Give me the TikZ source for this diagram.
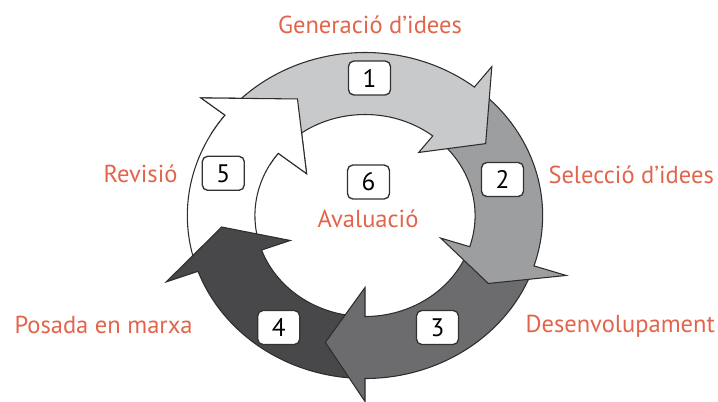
\documentclass[tikz,border=0pt]{standalone}
\usepackage{fontspec}
\setmainfont{PT Sans}

\definecolor{labelred}{RGB}{226,100,75}
\definecolor{stageone}{RGB}{200,201,203}
\definecolor{stagetwo}{RGB}{157,158,160}
\definecolor{stagethree}{RGB}{108,108,110}
\definecolor{stagefour}{RGB}{72,72,74}
\definecolor{stagefive}{RGB}{255,255,255}

\tikzset{every picture/.style={line width=0.75pt}}
\tikzset{
  stage/.style={draw={rgb,255:red,45;green,45;blue,45}, line width=0.8pt, line join=miter},
  numbox/.style={draw={rgb,255:red,50;green,50;blue,50}, fill=white, rounded corners=4pt,
    line width=1pt, minimum width=31.5pt, minimum height=25.5pt, inner sep=0pt,
    font=\fontsize{19}{19}\selectfont},
  steplabel/.style={text=labelred, inner sep=0pt, font=\fontsize{18.4}{18.4}\selectfont}
}

% fill, tail, base, tip, inner barb, outer barb
\newcommand{\stagearrow}[6]{%
  \draw[stage, fill=#1] (#2:163) arc[start angle=#2, end angle=#3, radius=163]
    -- (#3:#6) -- (#4:132) -- (#3:#5) -- (#3:101)
    arc[start angle=#3, end angle=#2, radius=101] -- cycle;}

\begin{document}
\begin{tikzpicture}[x=0.75pt,y=0.75pt,yscale=-1,xscale=1]
\useasboundingbox (0,0) rectangle (718,401);

%Cycle of arrows
\begin{scope}[shift={(365,215.5)}, yscale=-1, xscale=1.09]
\stagearrow{stagefive}{-164}{-218}{-242}{68}{191}
\stagearrow{stagefour}{-94}{-160}{-175}{73}{194}
\stagearrow{stagethree}{-22}{-90}{-106}{72}{186}
\stagearrow{stagetwo}{48}{-18}{-31}{73}{194}
\stagearrow{stageone}{138}{52}{33}{80}{189}
%head of arrow 5 over tail of arrow 1
\begin{scope}
\clip (0,0) -- (105:240) arc[start angle=105, end angle=150, radius=240] -- cycle;
\stagearrow{stagefive}{-164}{-218}{-242}{68}{191}
\end{scope}
\end{scope}

% Number boxes
\node[numbox] (n1) at (369.5,78) {1};
\node[numbox] (n2) at (502.5,179.5) {2};
\node[numbox] (n3) at (437.5,327.5) {3};
\node[numbox] (n4) at (278.7,327.5) {4};
\node[numbox] (n5) at (223.3,173.3) {5};
\node[numbox] (n6) at (368.5,182) {6};

% Text Node
\node[steplabel, anchor=base] (gen) at (370,33) {Generació d’idees};
\node[steplabel, anchor=base west] (sel) at (548,183) {Selecció d’idees};
\node[steplabel, anchor=base west] (des) at (525,332) {Desenvolupament};
\node[steplabel, anchor=base east] (rev) at (178,182) {Revisió};
\node[steplabel, anchor=base west] (pos) at (14,333) {Posada en marxa};
\node[steplabel, anchor=base] (ava) at (368,227) {Avaluació};

\end{tikzpicture}
\end{document}
